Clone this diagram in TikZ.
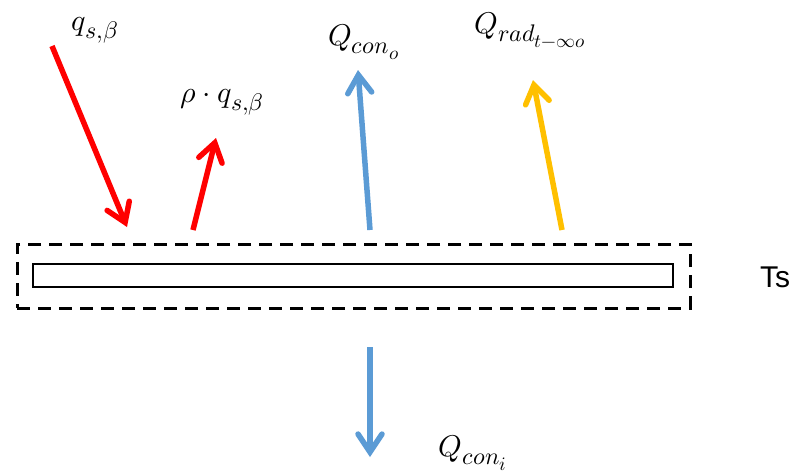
\documentclass[tikz,border=0pt]{standalone}
\usepackage{unicode-math}
\setmathfont{Latin Modern Math}
\DeclareMathSizes{30}{30}{24}{19}
\newfontfamily\arialfont{Liberation Sans}
\usetikzlibrary{arrows.meta}
\definecolor{hred}{HTML}{FF0000}
\definecolor{hblue}{HTML}{5B9BD5}
\definecolor{hyellow}{HTML}{FFC000}
\begin{document}
\begin{tikzpicture}[x=1pt,y=-1pt,
  flow/.style={line width=5.5pt, -{Straight Barb[length=18pt,width=24pt,line cap=round]}},
  lbl/.style={inner sep=0pt, font=\fontsize{30}{34}\selectfont},
  dashbox/.style={draw, line width=3pt, dash pattern=on 13pt off 8pt},
  plate/.style={draw, line width=2pt}]
\useasboundingbox (0,0) rectangle (800,475);
\node[dashbox, minimum width=673pt, minimum height=64pt, inner sep=0pt] (env) at (353.5,276) {};
\node[plate, minimum width=640pt, minimum height=23pt, inner sep=0pt] (plt) at (353,275.5) {};
\node[inner sep=0pt, font=\arialfont\fontsize{30}{34}\selectfont] (ts) at (775,277) {Ts};
% labels
\node[lbl] (qs) at (95,30) {$q_{s,\beta}$};
\node[lbl] (rq) at (222,102) {$\rho\cdot q_{s,\beta}$};
\node[lbl] (qco) at (364,42) {$Q_{con_o}$};
\node[lbl] (qrad) at (530,30) {$Q_{rad_{t-\infty o}}$};
\node[lbl] (qci) at (473,453) {$Q_{con_i}$};
% arrow ends
\coordinate (a1s) at (52,46);
\coordinate (a1e) at (127,227);
\coordinate (a2s) at (193,230);
\coordinate (a2e) at (216,138);
\coordinate (a3s) at (370,230);
\coordinate (a3e) at (358,70);
\coordinate (a4s) at (562,230);
\coordinate (a4e) at (533,80);
\coordinate (a5s) at (370,347);
\coordinate (a5e) at (370,457);
\draw[flow, hred] (a1s) -- (a1e);
\draw[flow, hred] (a2s) -- (a2e);
\draw[flow, hblue] (a3s) -- (a3e);
\draw[flow, hyellow] (a4s) -- (a4e);
\draw[flow, hblue] (a5s) -- (a5e);
\end{tikzpicture}
\end{document}
